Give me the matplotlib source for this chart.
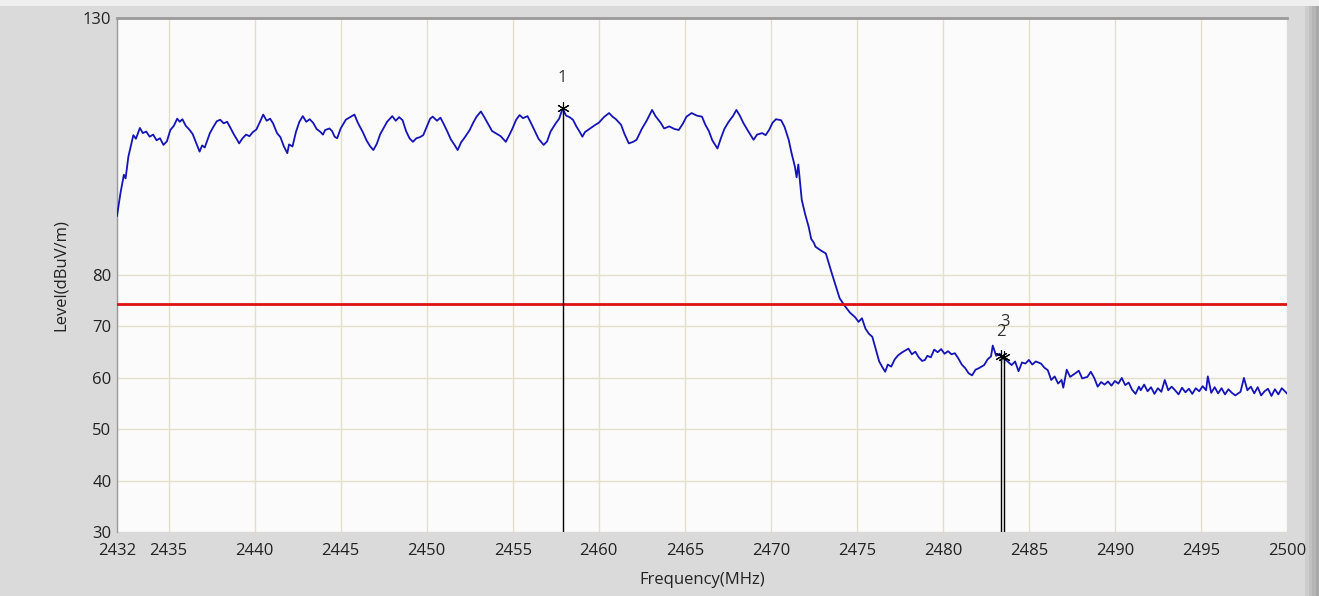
import matplotlib.pyplot as plt
from matplotlib.patches import Rectangle

# spectrum trace (MHz, dBuV/m)
freq = [2432.0, 2432.2, 2432.4, 2432.5, 2432.66, 2432.8, 2432.95, 2433.1, 2433.33, 2433.5,
        2433.7, 2433.9, 2434.1, 2434.3, 2434.5, 2434.7, 2434.9, 2435.1, 2435.3, 2435.5,
        2435.65, 2435.8, 2436.0, 2436.2, 2436.4, 2436.6, 2436.8, 2436.95, 2437.1, 2437.4,
        2437.6, 2437.8, 2438.0, 2438.2, 2438.4, 2438.55, 2438.8, 2439.0, 2439.1, 2439.3,
        2439.5, 2439.7, 2439.9, 2440.1, 2440.3, 2440.5, 2440.7, 2440.9, 2441.07, 2441.3,
        2441.5, 2441.7, 2441.9, 2442.0, 2442.2, 2442.4, 2442.6, 2442.8, 2443.0, 2443.2,
        2443.4, 2443.6, 2443.8, 2443.97, 2444.1, 2444.35, 2444.5, 2444.65, 2444.8, 2445.0,
        2445.3, 2445.5, 2445.8, 2446.0, 2446.3, 2446.5, 2446.7, 2446.9, 2447.1, 2447.3,
        2447.45, 2447.7, 2448.0, 2448.2, 2448.4, 2448.6, 2448.8, 2449.0, 2449.2, 2449.4,
        2449.6, 2449.8, 2450.0, 2450.2, 2450.35, 2450.6, 2450.8, 2451.0, 2451.2, 2451.4,
        2451.6, 2451.8, 2452.0, 2452.2, 2452.5, 2452.7, 2452.9, 2453.15, 2453.35, 2453.6,
        2453.8, 2454.0, 2454.3, 2454.6, 2454.8, 2455.0, 2455.2, 2455.4, 2455.6, 2455.86,
        2456.1, 2456.3, 2456.5, 2456.8, 2457.0, 2457.2, 2457.5, 2457.7, 2457.9, 2458.1,
        2458.3, 2458.5, 2458.7, 2458.9, 2459.05, 2459.2, 2459.5, 2459.8, 2460.0, 2460.3,
        2460.6, 2460.8, 2461.0, 2461.3, 2461.5, 2461.75, 2462.0, 2462.2, 2462.5, 2462.8,
        2463.1, 2463.3, 2463.6, 2463.8, 2464.1, 2464.4, 2464.65, 2464.9, 2465.1, 2465.4,
        2465.7, 2466.0, 2466.2, 2466.4, 2466.6, 2466.9, 2467.1, 2467.3, 2467.55, 2467.8,
        2468.0, 2468.2, 2468.4, 2468.7, 2469.0, 2469.2, 2469.5, 2469.7, 2469.9, 2470.1,
        2470.3, 2470.6, 2470.8, 2471.04, 2471.2, 2471.4, 2471.5, 2471.6, 2471.8, 2472.0,
        2472.2, 2472.35, 2472.5, 2472.6, 2472.9, 2473.2, 2473.35, 2473.55, 2473.8, 2474.0,
        2474.3, 2474.6, 2474.9, 2475.1, 2475.3, 2475.5, 2475.7, 2475.9, 2476.1, 2476.3,
        2476.5, 2476.65, 2476.8, 2477.0, 2477.2, 2477.4, 2477.6, 2477.8, 2478.0, 2478.2,
        2478.4, 2478.6, 2478.8, 2478.96, 2479.1, 2479.3, 2479.5, 2479.7, 2479.9, 2480.1,
        2480.3, 2480.5, 2480.7, 2480.9, 2481.1, 2481.3, 2481.5, 2481.7, 2481.9, 2482.1,
        2482.4, 2482.6, 2482.8, 2482.9, 2483.1, 2483.3, 2483.5, 2483.7, 2484.0, 2484.2,
        2484.4, 2484.6, 2484.8, 2485.0, 2485.2, 2485.4, 2485.7, 2485.9, 2486.1, 2486.3,
        2486.5, 2486.7, 2486.9, 2487.0, 2487.2, 2487.4, 2487.7, 2487.9, 2488.1, 2488.4,
        2488.6, 2488.8, 2489.0, 2489.2, 2489.4, 2489.6, 2489.8, 2490.0, 2490.2, 2490.4,
        2490.6, 2490.8, 2491.0, 2491.2, 2491.4, 2491.5, 2491.7, 2491.9, 2492.1, 2492.3,
        2492.5, 2492.7, 2492.9, 2493.1, 2493.3, 2493.5, 2493.7, 2493.9, 2494.1, 2494.3,
        2494.5, 2494.7, 2494.9, 2495.1, 2495.3, 2495.4, 2495.6, 2495.8, 2496.0, 2496.2,
        2496.4, 2496.6, 2496.8, 2497.0, 2497.3, 2497.5, 2497.7, 2497.9, 2498.1, 2498.3,
        2498.5, 2498.7, 2498.9, 2499.1, 2499.3, 2499.5, 2499.7, 2500.0]
level = [91.5, 95.9, 99.5, 98.8, 103.0, 105.0, 107.2, 106.5, 108.6, 107.6,
         107.9, 106.9, 107.3, 106.2, 106.6, 105.3, 106.0, 108.2, 109.0, 110.4,
         109.8, 110.3, 109.0, 108.3, 107.4, 105.7, 104.0, 105.2, 104.8, 107.6,
         108.8, 109.9, 110.2, 109.5, 109.8, 108.9, 107.3, 106.2, 105.6, 106.6,
         107.3, 107.0, 107.8, 108.3, 109.7, 111.2, 110.0, 110.4, 109.5, 107.6,
         106.8, 105.0, 103.7, 105.4, 105.0, 107.8, 109.8, 110.9, 109.8, 110.3,
         109.6, 108.4, 107.9, 107.3, 108.2, 108.5, 108.0, 106.9, 106.6, 108.5,
         110.2, 110.6, 111.2, 109.6, 107.7, 106.2, 105.1, 104.3, 105.5, 107.4,
         108.3, 109.8, 110.9, 110.0, 110.7, 110.1, 108.0, 106.6, 105.9, 106.6,
         106.8, 107.2, 108.8, 110.4, 110.8, 110.0, 110.6, 109.3, 107.9, 106.4,
         105.4, 104.3, 105.8, 106.7, 108.2, 109.6, 110.8, 111.8, 110.7, 109.2,
         108.0, 107.6, 107.0, 105.9, 107.2, 108.6, 110.2, 111.1, 110.5, 110.9,
         109.3, 107.9, 106.5, 105.3, 106.0, 107.9, 109.5, 110.4, 112.4, 111.0,
         110.7, 110.2, 108.9, 107.8, 106.9, 107.8, 108.5, 109.2, 109.6, 110.7,
         111.5, 110.8, 110.3, 109.2, 107.4, 105.6, 105.9, 106.3, 108.4, 110.1,
         112.1, 110.9, 109.6, 108.5, 108.9, 108.4, 108.2, 109.5, 110.8, 111.5,
         111.0, 110.8, 109.2, 108.0, 106.2, 104.6, 106.6, 108.4, 109.8, 110.9,
         112.1, 111.0, 109.6, 107.9, 106.3, 107.3, 107.6, 107.2, 108.2, 109.6,
         110.3, 110.1, 108.8, 106.3, 103.8, 101.1, 99.0, 101.5, 94.6, 91.8,
         89.4, 87.0, 86.3, 85.5, 84.8, 84.2, 82.5, 80.3, 77.6, 75.5,
         74.0, 72.7, 71.8, 70.9, 71.6, 69.6, 68.6, 68.0, 65.6, 63.2,
         62.0, 61.2, 62.6, 62.2, 63.6, 64.4, 64.9, 65.3, 65.7, 64.6,
         65.1, 64.0, 63.3, 63.5, 64.3, 64.0, 65.5, 65.0, 65.6, 64.7,
         65.2, 64.6, 64.8, 63.8, 62.6, 61.9, 60.9, 60.5, 61.6, 61.9,
         62.5, 63.6, 64.2, 66.3, 64.3, 64.7, 63.8, 63.4, 62.5, 63.2,
         61.3, 63.0, 62.8, 63.5, 62.6, 63.2, 62.8, 62.0, 61.5, 59.6,
         60.3, 58.9, 59.6, 58.1, 61.6, 60.2, 60.9, 61.4, 59.9, 60.2,
         61.2, 60.0, 58.3, 59.2, 58.7, 59.3, 58.5, 59.4, 58.9, 60.0,
         58.6, 59.1, 57.7, 56.9, 58.3, 57.6, 58.7, 57.4, 58.2, 56.9,
         58.0, 57.3, 59.6, 57.6, 58.3, 57.6, 56.8, 58.1, 57.2, 57.9,
         56.9, 58.0, 57.4, 58.4, 57.6, 60.3, 57.1, 58.2, 57.0, 58.0,
         56.8, 57.8, 57.1, 56.6, 57.3, 60.0, 57.6, 58.3, 57.0, 58.2,
         56.6, 57.4, 57.9, 56.5, 57.8, 56.8, 58.0, 57.0]

limit = 74.4

# markers
mk_labels = ['1', '2', '3']
mk_freq = [2457.9, 2483.4, 2483.55]
mk_level = [112.4, 64.2, 64.0]

x_ticks = [2432, 2435, 2440, 2445, 2450, 2455, 2460, 2465, 2470, 2475,
           2480, 2485, 2490, 2495, 2500]
y_ticks = [30, 40, 50, 60, 70, 80, 130]

plt.rcParams['font.family'] = ['Open Sans', 'DejaVu Sans']

fig = plt.figure(figsize=(13.19, 5.96), dpi=100, facecolor='#dadada')

# window frame: light strip on top, shaded strip on the right
fig.patches.append(Rectangle((0, 0.99), 1, 0.01, transform=fig.transFigure,
                             facecolor='#efefef', edgecolor='none', zorder=0))
shades = ['#cdcdcd', '#c0c0c0', '#b4b4b4', '#a8a8a8']
for i, c in enumerate(shades):
    fig.patches.append(Rectangle((0.9894 + i * 0.00265, 0), 0.00265, 0.99,
                                 transform=fig.transFigure, facecolor=c,
                                 edgecolor='none', zorder=0))

ax = fig.add_axes([0.0887, 0.107, 0.8870, 0.863])
ax.set_zorder(2)
ax.set_facecolor('#fbfbfb')

ax.plot(freq, level, color='#1414b8', linewidth=1.3, zorder=3)
ax.axhline(limit, color='#e01010', linewidth=2.0, zorder=4)

for lab, fx, fy in zip(mk_labels, mk_freq, mk_level):
    ax.plot([fx, fx], [30, fy], color='black', linewidth=1.0, zorder=5)
    ax.plot(fx, fy, marker=(6, 2, 0), color='black', markersize=9,
            markeredgewidth=0.8, zorder=6)

ax.text(mk_freq[0], mk_level[0] + 6, '1', ha='center', va='center', fontsize=12, color='#333333')
ax.text(mk_freq[1], mk_level[1] + 4.8, '2', ha='center', va='center', fontsize=12, color='#333333')
ax.text(mk_freq[2] + 0.05, mk_level[2] + 6.8, '3', ha='center', va='center', fontsize=12, color='#333333')

ax.set_xlim(2432, 2500)
ax.set_ylim(30, 130)
ax.set_xticks(x_ticks)
ax.set_yticks(y_ticks)
ax.tick_params(length=0, labelsize=12, colors='#222222')
ax.tick_params(axis='x', pad=8)
ax.tick_params(axis='y', pad=4)

ax.grid(True, color='#e4dfc8', linewidth=1.0, zorder=0)

ax.spines['top'].set_color('#9a9a9a')
ax.spines['top'].set_linewidth(2)
ax.spines['left'].set_color('#9a9a9a')
ax.spines['left'].set_linewidth(1)
ax.spines['right'].set_visible(False)
ax.spines['bottom'].set_visible(False)

ax.set_xlabel('Frequency(MHz)', fontsize=12, color='#222222', labelpad=9)
ax.set_ylabel('Level(dBuV/m)', fontsize=12, color='#222222', labelpad=10)

plt.savefig('out.png', dpi=100, facecolor=fig.get_facecolor())
